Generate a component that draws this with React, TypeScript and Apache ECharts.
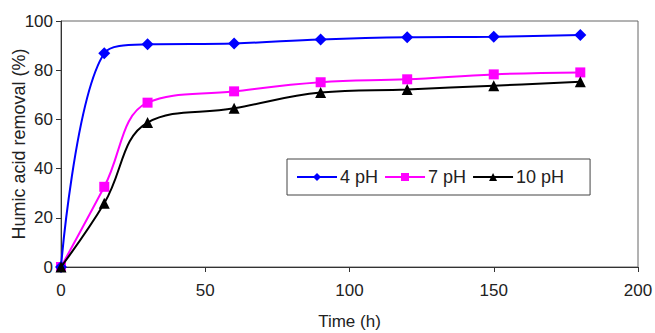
import React, { useEffect, useRef } from "react";
import * as echarts from "echarts";

const times = [0, 15, 30, 60, 90, 120, 150, 180];
const ph4 = [0, 86.9, 90.5, 90.9, 92.5, 93.4, 93.6, 94.3];
const ph7 = [0, 32.6, 66.8, 71.4, 75.1, 76.3, 78.3, 79.1];
const ph10 = [0, 25.9, 58.7, 64.5, 70.9, 72.2, 73.7, 75.3];
const seriesNames = ["4 pH", "7 pH", "10 pH"];

const pair = (vals: number[]) => times.map((t, i) => [t, vals[i]]);

export default function App() {
  const ref = useRef<HTMLDivElement>(null);
  useEffect(() => {
    document.body.style.margin = "0";
    const chart = echarts.init(ref.current!, null, { renderer: "svg" });
    const font = "Liberation Sans, Arial, sans-serif";
    const txt = "#222";
    chart.setOption({
      animation: false,
      backgroundColor: "#fff",
      textStyle: { fontFamily: font },
      grid: {
        left: 61,
        top: 21,
        right: 17,
        bottom: 66,
        show: true,
        borderColor: "#666",
        borderWidth: 1,
        containLabel: false,
        outerBoundsMode: "none",
      },
      legend: {
        left: 287,
        top: 159,
        orient: "horizontal",
        borderColor: "#444",
        borderWidth: 1,
        borderRadius: 0,
        padding: [9, 26, 9, 9],
        itemWidth: 40,
        itemHeight: 10,
        itemGap: 6,
        textStyle: { fontSize: 18, color: txt, fontFamily: font, padding: [0, 0, 0, -2] },
        data: seriesNames,
      },
      xAxis: {
        type: "value",
        min: 0,
        max: 200,
        interval: 50,
        name: "Time (h)",
        nameLocation: "middle",
        nameGap: 46,
        nameMoveOverlap: false,
        nameTextStyle: { fontSize: 17, color: txt, fontFamily: font },
        axisLine: { show: true, lineStyle: { color: "#333", width: 1 } },
        axisTick: { show: true, length: 5, lineStyle: { color: "#333" } },
        axisLabel: { fontSize: 17, color: txt, margin: 15, fontFamily: font },
        splitLine: { show: false },
      },
      yAxis: {
        type: "value",
        min: 0,
        max: 100,
        interval: 20,
        name: "Humic acid removal (%)",
        nameLocation: "middle",
        nameGap: 33,
        nameMoveOverlap: false,
        nameTextStyle: { fontSize: 18, color: txt, fontFamily: font },
        axisLine: { show: true, lineStyle: { color: "#333", width: 1 } },
        axisTick: { show: true, length: 5, lineStyle: { color: "#333" } },
        axisLabel: { fontSize: 17, color: txt, margin: 8, fontFamily: font },
        splitLine: { show: false },
      },
      series: [
        {
          name: seriesNames[0],
          type: "line",
          data: pair(ph4),
          smooth: 0.4,
          symbol: "diamond",
          symbolSize: [12, 12],
          lineStyle: { color: "#0000ff", width: 2 },
          itemStyle: { color: "#0000ff" },
          z: 3,
        },
        {
          name: seriesNames[1],
          type: "line",
          data: pair(ph7),
          smooth: 0.4,
          symbol: "rect",
          symbolSize: 10,
          lineStyle: { color: "#ff00ff", width: 2 },
          itemStyle: { color: "#ff00ff" },
          z: 2,
        },
        {
          name: seriesNames[2],
          type: "line",
          data: pair(ph10),
          smooth: 0.4,
          symbol: "triangle",
          symbolSize: 11,
          lineStyle: { color: "#000000", width: 2 },
          itemStyle: { color: "#000000" },
          z: 4,
        },
      ],
    });
    return () => chart.dispose();
  }, []);
  return (
    <div
      ref={ref}
      style={{ position: "absolute", left: 0, top: 0, width: 655, height: 333 }}
    />
  );
}
